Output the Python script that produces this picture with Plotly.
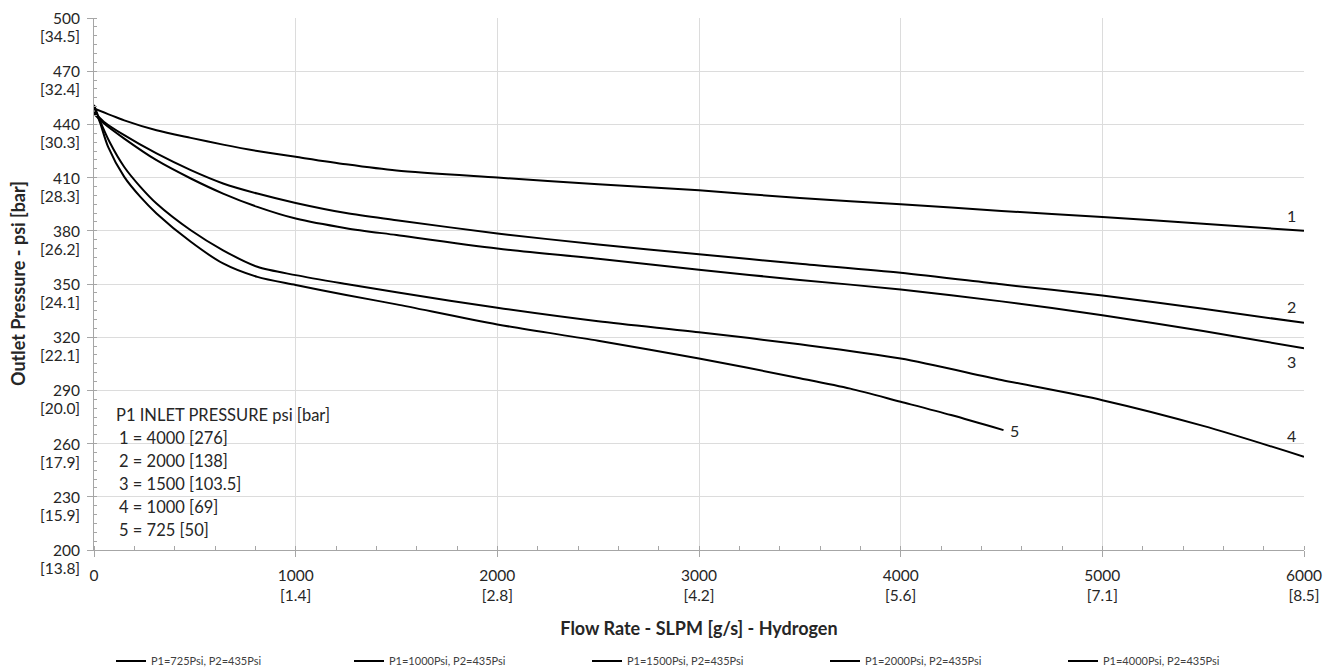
import plotly.graph_objects as go

FONT = "Lato"

# ---- data ----
x_4000 = [0, 150, 310, 480, 640, 810, 1000, 1250, 1500, 2000, 2500, 3000, 3500, 4000, 4500, 5000, 5500, 6000]
y_4000 = [449, 442.3, 436.7, 432.4, 428.6, 425, 421.7, 417.5, 414, 410, 406.3, 402.8, 398.5, 395, 391.2, 387.8, 384, 380]

x_2000 = [0, 50, 150, 310, 480, 640, 810, 1000, 1250, 1500, 2000, 2500, 3000, 3500, 4000, 4500, 5000, 5500, 6000]
y_2000 = [447, 441.4, 433.9, 423.6, 414.2, 406.7, 401, 395.7, 390, 386, 378.5, 372.3, 366.8, 361.4, 356.3, 349.8, 343.5, 336, 328.1]

x_1500 = [0, 50, 150, 310, 480, 640, 810, 1000, 1250, 1500, 2000, 2500, 3000, 3500, 4000, 4500, 5000, 5500, 6000]
y_1500 = [446, 440.5, 432, 419.8, 409.5, 401, 393.5, 386.9, 381.5, 377.6, 370, 364.2, 358, 352.3, 346.9, 340.2, 332.4, 323.5, 313.7]

x_1000 = [0, 30, 80, 150, 230, 310, 480, 640, 810, 1000, 1250, 1500, 2000, 2500, 3000, 3500, 4000, 4500, 5000, 5500, 6000]
y_1000 = [451, 442, 429.5, 416, 404.8, 395.4, 380.3, 369, 359.7, 355, 350, 345.3, 336.6, 329, 322.8, 316, 308, 295.9, 284.5, 270, 252.6]

x_725 = [0, 30, 70, 150, 230, 310, 480, 640, 810, 1000, 1250, 1500, 2000, 2500, 3000, 3500, 3750, 4000, 4250, 4510]
y_725 = [450, 441, 427.3, 410.4, 399.1, 389.8, 373.8, 361.6, 354, 349.4, 343.8, 338.5, 327.2, 318, 308, 296.9, 291, 283.6, 276.1, 267.6]

series_names = ["P1=725Psi, P2=435Psi", "P1=1000Psi, P2=435Psi", "P1=1500Psi, P2=435Psi",
                "P1=2000Psi, P2=435Psi", "P1=4000Psi, P2=435Psi"]

x_tickvals = [0, 1000, 2000, 3000, 4000, 5000, 6000]
x_ticktext = ["0", "1000<br>[1.4]", "2000<br>[2.8]", "3000<br>[4.2]", "4000<br>[5.6]", "5000<br>[7.1]", "6000<br>[8.5]"]

y_tickvals = [200, 230, 260, 290, 320, 350, 380, 410, 440, 470, 500]
y_bar = ["13.8", "15.9", "17.9", "20.0", "22.1", "24.1", "26.2", "28.3", "30.3", "32.4", "34.5"]

curve_labels = ["1", "2", "3", "4", "5"]
curve_label_x = [5940, 5940, 5940, 5940, 4565]
curve_label_y = [388.8, 337.5, 306.1, 264.8, 267.6]

legend_lines = ["P1 INLET PRESSURE psi [bar]", "1 = 4000 [276]", "2 = 2000 [138]",
                "3 = 1500 [103.5]", "4 = 1000 [69]", "5 = 725 [50]"]

# ---- figure ----
# The page body has an 8px margin, so the figure is 8px smaller and its
# top/left margins 8px smaller to land the plot area where the reference has it.
fig = go.Figure()
all_x = [x_725, x_1000, x_1500, x_2000, x_4000]
all_y = [y_725, y_1000, y_1500, y_2000, y_4000]
for name, xs, ys in zip(series_names, all_x, all_y):
    fig.add_trace(go.Scatter(x=xs, y=ys, mode="lines", name=name,
                             line=dict(color="black", width=2, shape="spline", smoothing=0.8),
                             hoverinfo="skip"))

AX = "#a6a6a6"
GRID = "#dcdcdc"
TXT = "#262626"
TICK_SIZE = 15.5

fig.update_layout(
    width=1324, height=660,
    margin=dict(l=86, r=28, t=10, b=118),
    paper_bgcolor="white", plot_bgcolor="white",
    font=dict(family=FONT, color=TXT, size=15),
    showlegend=True,
    legend=dict(orientation="h", xref="container", yref="container",
                x=0.0778, xanchor="left", y=0.0106, yanchor="middle",
                font=dict(size=11, color="#404040", family=FONT),
                itemwidth=30, entrywidth=193, traceorder="normal"),
)

fig.update_xaxes(
    range=[0, 6000], tickvals=x_tickvals, ticktext=x_ticktext,
    showgrid=True, gridcolor=GRID, gridwidth=1,
    showline=True, linecolor=AX, linewidth=1,
    ticks="outside", ticklen=6, tickcolor=AX, ticklabelstandoff=5,
    minor=dict(dtick=200, tick0=0, ticks="inside", ticklen=4, tickcolor=AX, showgrid=False),
    tickfont=dict(size=TICK_SIZE, color=TXT, family=FONT),
    zeroline=False,
    title=dict(text="<b>Flow Rate - SLPM [g/s] - Hydrogen</b>", font=dict(size=18, color=TXT, family=FONT), standoff=19),
)
fig.update_yaxes(
    range=[200, 500], tickvals=y_tickvals, showticklabels=False,
    showgrid=True, gridcolor=GRID, gridwidth=1,
    showline=True, linecolor=AX, linewidth=1,
    ticks="outside", ticklen=6, tickcolor=AX,
    minor=dict(dtick=5, tick0=200, ticks="inside", ticklen=3, tickcolor=AX, showgrid=False),
    zeroline=False,
)

annotations = []
# y tick labels (psi at the tick, bar just below)
for v, b in zip(y_tickvals, y_bar):
    annotations.append(dict(text=str(v), xref="paper", x=0, xanchor="right", xshift=-12,
                            yref="y", y=v, yanchor="middle", yshift=0, showarrow=False,
                            font=dict(size=TICK_SIZE, color=TXT, family=FONT)))
    annotations.append(dict(text=f"[{b}]", xref="paper", x=0, xanchor="right", xshift=-12,
                            yref="y", y=v, yanchor="middle", yshift=-18, showarrow=False,
                            font=dict(size=TICK_SIZE, color=TXT, family=FONT)))
# y axis title
annotations.append(dict(text="<b>Outlet Pressure - psi [bar]</b>", textangle=-90, xref="paper", x=0,
                        xanchor="center", xshift=-76, yref="paper", y=0.5, yanchor="middle",
                        showarrow=False, font=dict(size=18, color=TXT, family=FONT)))
# curve labels
for t, lx, ly in zip(curve_labels, curve_label_x, curve_label_y):
    annotations.append(dict(text=t, x=lx, y=ly, xref="x", yref="y", showarrow=False,
                            xanchor="center", yanchor="middle", font=dict(size=16, color=TXT, family=FONT)))
# inlet pressure text box
box_y = [0.2538, 0.210, 0.1673, 0.124, 0.0814, 0.0376]
box_x = [0.0165, 0.019, 0.019, 0.019, 0.019, 0.019]
for t, bx, by in zip(legend_lines, box_x, box_y):
    annotations.append(dict(text=t, xref="paper", yref="paper", x=bx, y=by, xanchor="left",
                            yanchor="middle", showarrow=False, font=dict(size=16.5, color=TXT, family=FONT)))
fig.update_layout(annotations=annotations)

fig.add_shape(type="rect", xref="paper", yref="paper", x0=0.005, x1=0.133, y0=0.019, y1=0.235,
              fillcolor="white", line=dict(width=0), layer="between")

fig.write_html("out.html")
